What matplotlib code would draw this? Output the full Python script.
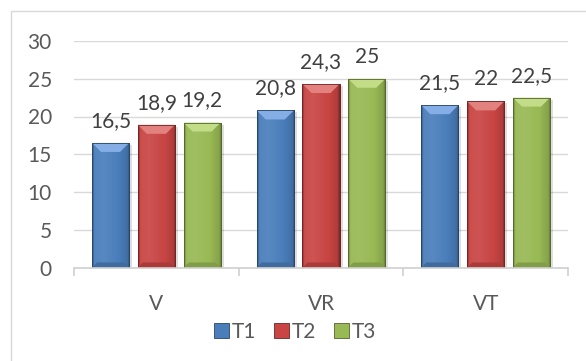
import matplotlib
matplotlib.use("Agg")
import matplotlib.pyplot as plt
import numpy as np
from matplotlib.patches import Polygon, Rectangle, Patch
from matplotlib.lines import Line2D
from matplotlib.colors import to_rgb

categories = ["V", "VR", "VT"]
series_names = ["T1", "T2", "T3"]
t1 = [16.5, 20.8, 21.5]
t2 = [18.9, 24.3, 22.0]
t3 = [19.2, 25.0, 22.5]
label_t1 = ["16,5", "20,8", "21,5"]
label_t2 = ["18,9", "24,3", "22"]
label_t3 = ["19,2", "25", "22,5"]
yticks = [0, 5, 10, 15, 20, 25, 30]

series = [t1, t2, t3]
labels = [label_t1, label_t2, label_t3]
colors = ["#4a7ebb", "#c84543", "#98b954"]
tops = ["#86aee6", "#e3817f", "#c2dc88"]

FONT = "Lato"
FS = 15
TXT = "#595959"
W, H = 586, 361
fig = plt.figure(figsize=(W / 100, H / 100), dpi=100)
ax = fig.add_axes([74 / W, 1 - 267.5 / H, (568 - 74) / W, (267.5 - 41) / H])

ax.set_xlim(-0.5, 2.5)
ax.set_ylim(0, 30)
px_x = 3.0 / (568 - 74)
px_y = 30.0 / (267.5 - 41)

bw = 0.225
step = 0.278
offsets = [-step, 0, step]

def shade(c, f):
    r = np.array(to_rgb(c))
    if f >= 0:
        return tuple(r + (1 - r) * f)
    return tuple(r * (1 + f))

for si, vals in enumerate(series):
    xs = np.arange(len(categories)) + offsets[si]
    for x, v in zip(xs, vals):
        ax.add_patch(Rectangle((x - bw / 2 + 3 * px_x, 0), bw, v - 2 * px_y,
                               color="black", alpha=0.13, lw=0, zorder=1.5))
    bars = ax.bar(xs, vals, width=bw, color=colors[si], zorder=2,
                  edgecolor=shade(colors[si], -0.45), linewidth=0.6)
    for b, x, v, lab in zip(bars, xs, vals, labels[si]):
        x0 = x - bw / 2
        x1 = x + bw / 2
        u = np.linspace(0, 1, 64)
        f = np.interp(u, [0, 0.06, 0.3, 0.7, 0.94, 1.0],
                      [-0.35, 0.05, 0.08, 0.0, -0.12, -0.4])
        img = np.array([[(*shade(colors[si], fi), 1.0) for fi in f]])
        im = ax.imshow(img, extent=(x0, x1, 0, v), aspect="auto",
                       interpolation="bilinear", zorder=2.1)
        im.set_clip_path(b)
        dx = 9 * px_x
        dy = 9 * px_y
        ax.add_patch(Polygon([(x0, v), (x1, v), (x1 - dx, v - dy), (x0 + dx, v - dy)],
                             closed=True, color=tops[si], lw=0, zorder=2.2))
        bdy = 5 * px_y
        ax.add_patch(Polygon([(x0, 0), (x1, 0), (x1 - 5 * px_x, bdy), (x0 + 5 * px_x, bdy)],
                             closed=True, color=shade(colors[si], -0.15), lw=0, zorder=2.2))
        ax.add_patch(Rectangle((x0, 0), bw, v, fill=False,
                               edgecolor=shade(colors[si], -0.45), lw=0.6, zorder=2.3))
        ax.annotate(lab, (x, v), xytext=(0, 11.5), textcoords="offset points",
                    ha="center", va="baseline", fontsize=FS, family=FONT,
                    color="#404040", zorder=3)

ax.set_yticks(yticks)
ax.set_yticklabels([str(t) for t in yticks])
ax.tick_params(axis="y", length=0, pad=16, labelsize=FS, labelcolor=TXT)
for t in ax.get_yticklabels():
    t.set_family(FONT)
ax.yaxis.grid(True, color="#d9d9d9", lw=1.0, zorder=0)
ax.set_axisbelow(True)

ax.set_xticks([-0.5, 0.5, 1.5, 2.5])
ax.set_xticklabels([])
ax.set_xticks(range(len(categories)), minor=True)
ax.set_xticklabels(categories, minor=True)
ax.tick_params(axis="x", which="major", length=6, width=1.2, color="#d0d0d0")
ax.tick_params(axis="x", which="minor", length=0, pad=19, labelsize=FS, labelcolor=TXT)
for t in ax.get_xticklabels(minor=True):
    t.set_family(FONT)

for s in ["left", "right", "top"]:
    ax.spines[s].set_visible(False)
ax.spines["bottom"].set_color("#d0d0d0")
ax.spines["bottom"].set_linewidth(1.2)

handles = [Patch(facecolor=colors[i], edgecolor=shade(colors[i], -0.45), lw=0.6)
           for i in range(3)]
fig.legend(handles, series_names, loc="center", bbox_to_anchor=(295 / W, 1 - 332 / H),
           ncol=3, frameon=False, handlelength=0.72, handleheight=0.72,
           handletextpad=0.15, columnspacing=0.85,
           prop={"family": FONT, "size": FS}, labelcolor=TXT)

fig.add_artist(Line2D([10.5 / W, 10.5 / W, 1.0], [0, 1 - 11 / H, 1 - 11 / H],
                      transform=fig.transFigure, color="#d9d9d9", lw=1.0))

fig.savefig("out.png", dpi=100)
